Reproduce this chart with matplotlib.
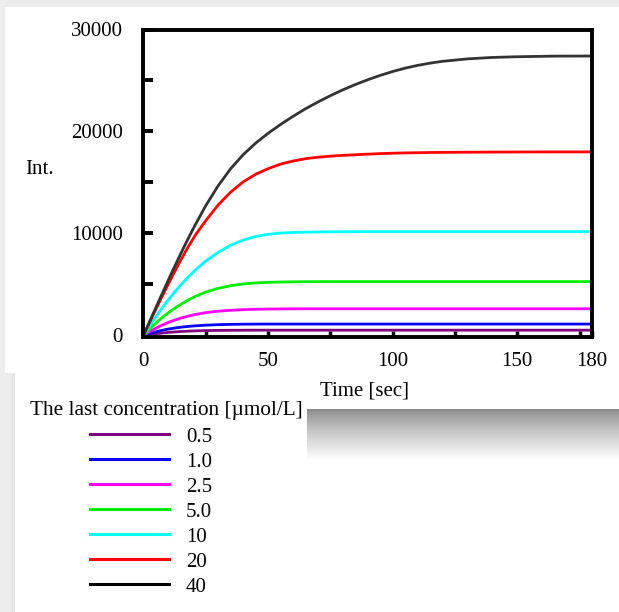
import numpy as np
import matplotlib.pyplot as plt
from matplotlib.patches import Rectangle
from matplotlib.lines import Line2D

plt.rcParams['font.family'] = ['Liberation Serif', 'DejaVu Serif']

# time axis of the kinetic run [sec]
t = [0, 2, 4, 6, 8, 10, 12, 15, 18, 21, 25, 30, 35, 40, 45, 50, 55, 60, 65, 70,
     75, 80, 85, 90, 95, 100, 105, 110, 115, 120, 130, 140, 150, 165, 180]

# fluorescence intensity for each final concentration
int_05 = [0, 70, 140, 200, 255, 300, 340, 390, 425, 455, 480, 500, 510, 515, 520, 520, 520, 520, 520, 520,
          520, 520, 520, 520, 520, 520, 520, 520, 520, 520, 520, 520, 520, 520, 520]
int_10 = [0, 150, 290, 420, 530, 630, 710, 810, 890, 950, 1010, 1060, 1090, 1105, 1115, 1120, 1120, 1120, 1120, 1120,
          1120, 1120, 1120, 1120, 1120, 1120, 1120, 1120, 1120, 1120, 1120, 1120, 1120, 1120, 1120]
int_25 = [0, 300, 580, 840, 1070, 1280, 1460, 1700, 1900, 2070, 2240, 2380, 2470, 2530, 2570, 2590, 2605, 2612, 2620, 2620,
          2620, 2620, 2620, 2620, 2620, 2620, 2620, 2620, 2620, 2620, 2620, 2620, 2620, 2620, 2620]
int_50 = [0, 500, 980, 1430, 1850, 2230, 2580, 3050, 3480, 3850, 4250, 4620, 4880, 5050, 5150, 5210, 5240, 5260, 5270, 5275,
          5280, 5280, 5280, 5280, 5280, 5280, 5280, 5280, 5280, 5280, 5280, 5280, 5280, 5280, 5280]
int_100 = [0, 750, 1480, 2180, 2850, 3500, 4100, 4950, 5750, 6450, 7300, 8150, 8850, 9350, 9700, 9920, 10040, 10100, 10130, 10150,
           10160, 10170, 10175, 10180, 10180, 10180, 10180, 10180, 10180, 10180, 10180, 10180, 10180, 10180, 10180]
int_200 = [0, 1030, 2060, 3080, 4080, 5050, 6000, 7400, 8700, 9900, 11250, 12800, 14050, 15050, 15800, 16350, 16800, 17100, 17330, 17480,
           17580, 17660, 17720, 17780, 17830, 17870, 17900, 17920, 17940, 17950, 17970, 17980, 17990, 18000, 18000]
int_400 = [0, 1100, 2190, 3280, 4350, 5430, 6490, 8030, 9520, 10940, 12720, 14680, 16350, 17720, 18850, 19820, 20680, 21480, 22220, 22890,
           23510, 24080, 24600, 25070, 25500, 25880, 26210, 26480, 26700, 26880, 27120, 27260, 27330, 27390, 27400]

series = [int_05, int_10, int_25, int_50, int_100, int_200, int_400]
conc_labels = ['0.5', '1.0', '2.5', '5.0', '10', '20', '40']
colors = ['#800080', '#0000ff', '#ff00ff', '#00ee00', '#00ffff', '#ff0000', '#333333']
legend_colors = ['#800080', '#0000ff', '#ff00ff', '#00ee00', '#00ffff', '#ff0000', '#000000']

W, H = 619, 612
fig = plt.figure(figsize=(W / 100, H / 100), dpi=100)
fig.patch.set_facecolor('white')

# page background: grey margins, white panels, drop shadow
bg = fig.add_axes([0, 0, 1, 1], zorder=0)
bg.set_xlim(0, W)
bg.set_ylim(H, 0)
bg.axis('off')
bg.add_patch(Rectangle((0, 0), W, 7, color='#ebebeb', lw=0))
bg.add_patch(Rectangle((0, 0), 5, H, color='#eeeeee', lw=0))
steps = 25
for i in range(steps):
    g = 0.55 + 0.43 * (i / (steps - 1)) ** 0.8
    bg.add_patch(Rectangle((5, 409 + 2 * i), W - 5, 2, color=(g, g, g), lw=0))
bg.add_patch(Rectangle((0, 373), 15, H - 373, color='#ededed', lw=0))
bg.add_patch(Rectangle((12, 373), 3, H - 373, color='#e4e4e4', lw=0))
bg.add_patch(Rectangle((15, 373), 292, H - 373, color='white', lw=0))

ax = fig.add_axes([143.4 / W, 1 - 336.5 / H, 448.6 / W, 307 / H], zorder=2)
ax.patch.set_alpha(0)
for y, c in zip(series, colors):
    ax.plot(t, y, color=c, lw=2.0, solid_capstyle='butt')

ax.set_xlim(0, 180)
ax.set_ylim(-100, 30000)
ax.set_xticks([0, 50, 100, 150, 180])
ax.set_xticks([25, 75, 125, 175], minor=True)
ax.set_yticks([0, 10000, 20000, 30000])
ax.set_yticks([5000, 15000, 25000], minor=True)
for s in ax.spines.values():
    s.set_linewidth(2.8)
ax.tick_params(axis='y', which='both', direction='in', length=7, width=2.8, pad=15, labelsize=15)
ax.tick_params(axis='x', which='both', direction='in', length=4, width=2.5, pad=11, labelsize=15)

fig.text(25 / W, 1 - 170 / H, 'Int.', fontsize=15, ha='left', va='center')
fig.text(365 / W, 1 - 391 / H, 'Time [sec]', fontsize=15, ha='center', va='center')
fig.text(30 / W, 1 - 410 / H, 'The last concentration [\u00b5mol/L]', fontsize=15.3,
         ha='left', va='center', zorder=5)

handles = [Line2D([], [], color=c, lw=2.2) for c in legend_colors]
leg = fig.legend(handles, conc_labels, loc='upper left',
                 bbox_to_anchor=(90 / W, 1 - 427 / H), frameon=False,
                 fontsize=15, handlelength=3.8, handletextpad=0.8,
                 labelspacing=0.26, borderpad=0, borderaxespad=0)
leg.set_zorder(5)

fig.savefig('out.png', dpi=100)
